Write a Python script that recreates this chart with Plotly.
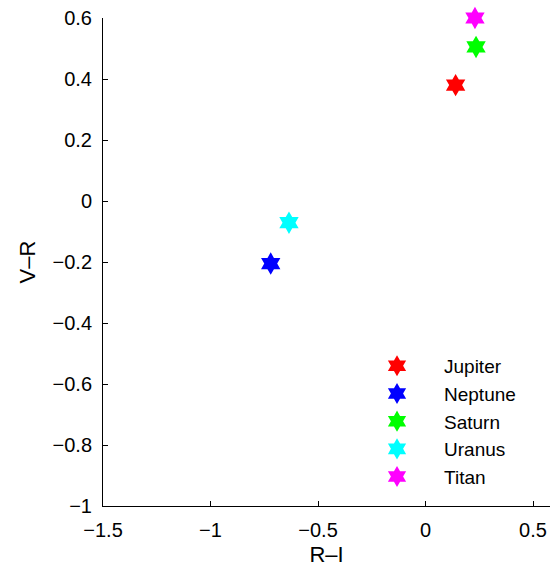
import plotly.graph_objects as go

names = ["Jupiter", "Neptune", "Saturn", "Uranus", "Titan"]
r_i = [0.14, -0.72, 0.235, -0.635, 0.23]
v_r = [0.38, -0.205, 0.505, -0.071, 0.60]
colors = ["#ff0000", "#0000ff", "#00ff00", "#00ffff", "#ff00ff"]

fig = go.Figure()
for n, x, y, c in zip(names, r_i, v_r, colors):
    fig.add_trace(go.Scatter(x=[x], y=[y], mode="markers", name=n, cliponaxis=False,
                             marker=dict(symbol="hexagram", size=17, color=c,
                                         line=dict(width=0))))

font = "Liberation Sans, Arial, Helvetica, sans-serif"
fig.update_layout(
    width=550, height=567,
    margin=dict(l=103, r=0, t=18, b=61),
    plot_bgcolor="white", paper_bgcolor="white",
    font=dict(family=font, size=20, color="black"),
    showlegend=True,
    legend=dict(x=0.5526, y=0.326, xanchor="left", yanchor="top",
                bgcolor="rgba(0,0,0,0)", itemwidth=84,
                font=dict(family=font, size=19)),
    xaxis=dict(range=[-1.5, 0.579], tickvals=[-1.5, -1, -0.5, 0, 0.5],
               ticktext=["\u22121.5", "\u22121", "\u22120.5", "0", "0.5"],
               showgrid=False, zeroline=False, showline=True, linecolor="black",
               linewidth=1, ticks="inside", ticklen=5, tickcolor="black",
               ticklabelstandoff=6, tickfont=dict(size=20),
               title=dict(text="R\u2013I", standoff=8, font=dict(size=22))),
    yaxis=dict(range=[-1, 0.6], tickvals=[-1, -0.8, -0.6, -0.4, -0.2, 0, 0.2, 0.4, 0.6],
               ticktext=["\u22121", "\u22120.8", "\u22120.6", "\u22120.4", "\u22120.2", "0", "0.2", "0.4", "0.6"],
               showgrid=False, zeroline=False, showline=True, linecolor="black",
               linewidth=1, ticks="inside", ticklen=5, tickcolor="black",
               ticklabelstandoff=6, tickfont=dict(size=20),
               title=dict(text="V\u2013R", standoff=10, font=dict(size=22))),
)
fig.write_html("out.html")
